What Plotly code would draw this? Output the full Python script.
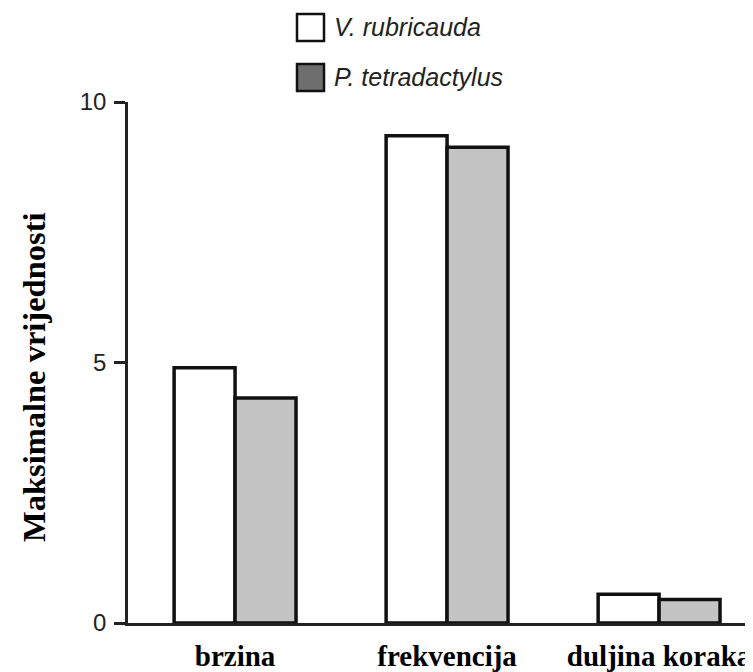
import plotly.graph_objects as go

categories = ["brzina", "frekvencija", "duljina koraka"]
series_names = ["V. rubricauda", "P. tetradactylus"]
v_rubricauda = [4.9, 9.35, 0.55]
p_tetradactylus = [4.32, 9.13, 0.45]
y_ticks = [0, 5, 10]

# the page body has an 8px margin; lay out in page pixels and convert
O = 8
W, H = 753 - O, 672 - O
L, R = 128 - O, 0
T = 102 - O
B = H - (623 - O)
pw, ph = W - L - R, H - T - B

def px(xp):
    return (xp - O - L) / pw

def py(yp):
    return (H - B - (yp - O)) / ph

fig = go.Figure()
fill_colors = ["#ffffff", "#c4c4c4"]
for name, vals, col in zip(series_names, [v_rubricauda, p_tetradactylus], fill_colors):
    fig.add_trace(go.Bar(
        x=categories, y=vals, name=name, showlegend=False,
        marker=dict(color=col, line=dict(color="#111111", width=3.5)),
    ))

# manual legend
legend_colors = ["#ffffff", "#6e6e6e"]
box_rows = [(14, 41), (64, 91)]
for (y0p, y1p), col, name in zip(box_rows, legend_colors, series_names):
    fig.add_shape(type="rect", xref="paper", yref="paper",
                  x0=px(297), x1=px(324), y0=py(y1p), y1=py(y0p),
                  fillcolor=col, line=dict(color="#111111", width=2.5))
    fig.add_annotation(xref="paper", yref="paper", x=px(332), y=py((y0p + y1p) / 2),
                       text="<i>" + name + "</i>", showarrow=False,
                       xanchor="left", yanchor="middle",
                       font=dict(family="Liberation Sans", size=25, color="#222222"))

# y-axis title
fig.add_annotation(xref="paper", yref="paper", x=px(34), y=py(377),
                   text="<b>Maksimalne vrijednosti</b>", textangle=-90, showarrow=False,
                   xanchor="center", yanchor="middle",
                   font=dict(family="Liberation Serif", size=32.5, color="#000000"))

fig.update_layout(
    width=W, height=H,
    margin=dict(l=L, r=R, t=T, b=B, pad=0, autoexpand=False),
    paper_bgcolor="white", plot_bgcolor="white",
    barmode="group", bargap=0.425, bargroupgap=0,
    xaxis=dict(
        range=[-0.505, 2.443], showline=True, linecolor="#222222", linewidth=2.5,
        showgrid=False, zeroline=False, ticks="", automargin=False,
        tickfont=dict(family="Liberation Serif", size=29, color="#000000", weight="bold"),
        ticklabelstandoff=5,
    ),
    yaxis=dict(
        range=[0, 10], tickvals=y_ticks, showline=True, linecolor="#222222", linewidth=2.5,
        showgrid=False, zeroline=False, ticks="outside", ticklen=11, tickwidth=2.5,
        tickcolor="#222222", automargin=False,
        tickfont=dict(family="Liberation Sans", size=24, color="#222222"),
        ticklabelstandoff=3,
    ),
)

fig.write_html("out.html")
